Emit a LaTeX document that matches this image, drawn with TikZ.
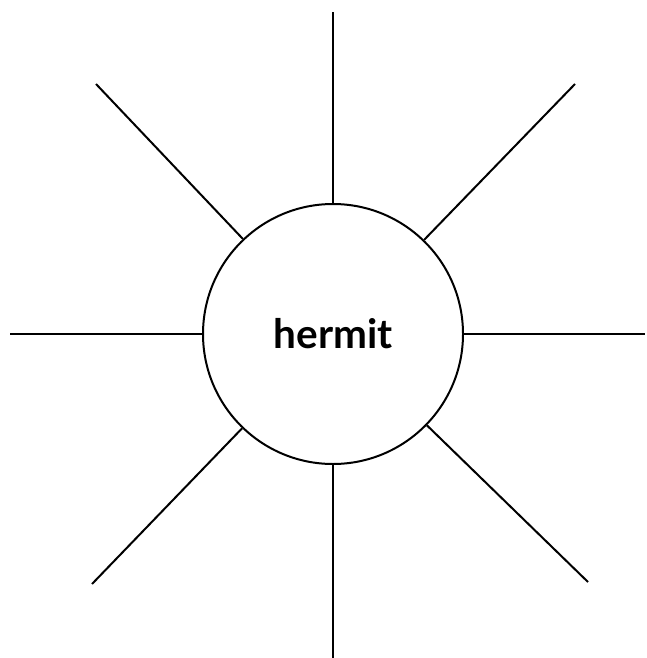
\documentclass[tikz,border=0pt]{standalone}
\usepackage{fontspec}
\setmainfont{Lato}
\begin{document}
\begin{tikzpicture}[x=1pt,y=-1pt,
  ray/.style={line width=2pt},
  hub/.style={circle,draw,line width=2pt,minimum size=260pt,inner sep=0pt,font=\fontsize{40.5}{44}\selectfont\bfseries}]
\useasboundingbox (0,0) rectangle (647,658);
\node[hub] (c) at (333,334) {hermit};
\coordinate (n) at (333,12);
\coordinate (s) at (333,658);
\coordinate (w) at (10,334);
\coordinate (e) at (645,334);
\coordinate (nw) at (96,84);
\coordinate (ne) at (575,84);
\coordinate (sw) at (92,584);
\coordinate (se) at (588,582);
\foreach \p in {n,s,w,e,nw,ne,sw,se} \draw[ray] (c) -- (\p);
\end{tikzpicture}
\end{document}
